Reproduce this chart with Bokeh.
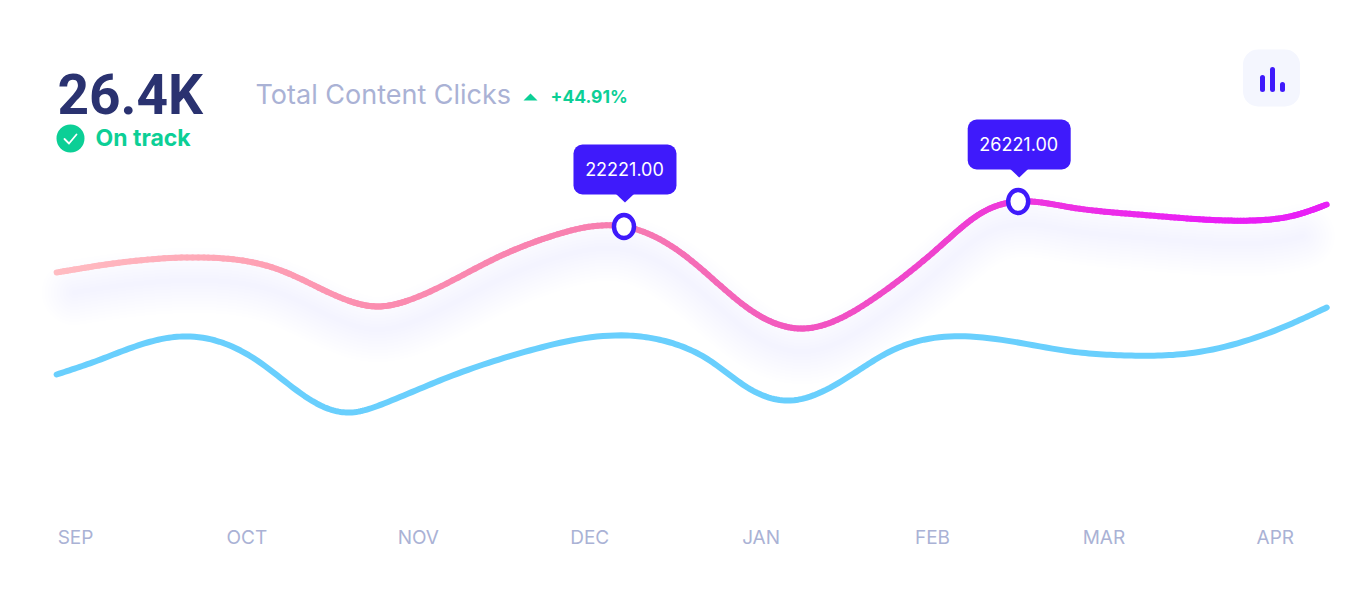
from bokeh.plotting import figure
from bokeh.models import FixedTicker, Range1d
from bokeh.core.properties import value
from bokeh.embed import file_html
from bokeh.resources import INLINE
import numpy as np

# ---- data ----
months = ["SEP", "OCT", "NOV", "DEC", "JAN", "FEB", "MAR", "APR"]

clicks_pos = [-0.11, 0.22, 0.75, 1.20, 1.59, 1.76, 1.94, 2.46, 2.79, 3.20, 3.57, 3.96, 4.25, 4.64, 5.05, 5.28,
              5.50, 5.81, 6.20, 6.58, 6.87, 7.11, 7.30]
clicks_val = [14861, 16301, 17261, 15181, 10381, 9421, 10381, 17261, 20781, 22221, 17261, 8461, 5901, 10381,
              19181, 24301, 26221, 25261, 24141, 23341, 23181, 23981, 25741]

second_pos = [-0.11, 0.13, 0.42, 0.67, 1.06, 1.43, 1.60, 1.80, 2.17, 2.65, 3.22, 3.47, 3.70, 3.92, 4.17, 4.54,
              4.74, 5.22, 5.81, 6.14, 6.49, 7.07, 7.30]
second_val = [-1459, 781, 3661, 4621, 781, -6419, -7539, -6099, -1939, 2381, 4781, 3661, 781, -3539, -5619,
              -1299, 2061, 4621, 2221, 1581, 1901, 6381, 9261]

marked_pos = [3.20, 5.50]
marked_val = [22221, 26221]
marked_txt = ["22221.00", "26221.00"]

headline = "26.4K"
status = "On track"
caption = "Total Content Clicks"
change = "+44.91%"

# ---- layout: page pixel -> data ----
PX_PER_MONTH, X0 = 171.4, 75.0
PX_PER_VAL = 1 / 160.0
F_L, F_R, F_T, F_B = 0, 1340, 0, 517
def X(px): return (np.asarray(px, float) - X0) / PX_PER_MONTH
def Y(py): return 22221 + (226 - np.asarray(py, float)) / PX_PER_VAL
def DX(d): return d / PX_PER_MONTH
def DY(d): return d / PX_PER_VAL   # d > 0 = upward

INDIGO = "#3f1afb"; GREEN = "#0ccf96"; NAVY = "#2a3270"; MUTED = "#aab2d5"; BLUE = "#69cffd"
FONT = value("Inter")

p = figure(width=1340, height=589, output_backend="svg", toolbar_location=None,
           x_range=Range1d(float(X(F_L)), float(X(F_R))), y_range=Range1d(float(Y(F_B)), float(Y(F_T))),
           y_axis_type=None, min_border_left=0, min_border_right=0, min_border_top=0, min_border_bottom=72,
           background_fill_color="white", border_fill_color="white", outline_line_color=None)
p.grid.visible = False
ax = p.xaxis[0]
ax.ticker = FixedTicker(ticks=list(range(len(months))))
ax.major_label_overrides = {i: m for i, m in enumerate(months)}
ax.axis_line_color = None
ax.major_tick_line_color = None
ax.minor_tick_line_color = None
ax.major_label_standoff = 2
ax.major_label_text_font = "Inter"
ax.major_label_text_font_size = "19px"
ax.major_label_text_color = MUTED


def smooth(xs, ys, n=16):
    """Natural cubic spline through the read points, for drawing the curve."""
    xs, ys = np.array(xs, float), np.array(ys, float)
    h = np.diff(xs)
    N = len(xs)
    A = np.zeros((N, N)); b = np.zeros(N)
    A[0, 0] = A[-1, -1] = 1
    for i in range(1, N - 1):
        A[i, i - 1], A[i, i], A[i, i + 1] = h[i - 1], 2 * (h[i - 1] + h[i]), h[i]
        b[i] = 6 * ((ys[i + 1] - ys[i]) / h[i] - (ys[i] - ys[i - 1]) / h[i - 1])
    M = np.linalg.solve(A, b)
    ox, oy = [], []
    for i in range(N - 1):
        for u in np.linspace(0, 1, n, endpoint=False):
            t = u * h[i]; r = h[i] - t
            ox.append(xs[i] + t)
            oy.append((M[i] * r**3 + M[i + 1] * t**3) / (6 * h[i])
                      + (ys[i] / h[i] - M[i] * h[i] / 6) * r + (ys[i + 1] / h[i] - M[i + 1] * h[i] / 6) * t)
    ox.append(xs[-1]); oy.append(ys[-1])
    return np.array(ox), np.array(oy)


cx, cy = smooth(clicks_pos, clicks_val)
bx, by = smooth(second_pos, second_val)

# soft shadow under the pink curve
shadow_mask = (cx >= X(72)) & (cx <= X(1302))
for w in range(66, 0, -6):
    p.line(cx[shadow_mask], cy[shadow_mask] - DY(23), line_color="#5a3cf0", line_alpha=0.0035, line_width=w,
           line_cap="round", line_join="round")

# blue curve
p.line(bx, by, line_color=BLUE, line_width=6, line_cap="round", line_join="round")

# pink curve with a colour ramp along x
stop_px = np.array([55, 250, 377, 623, 803, 950, 1018, 1200, 1326], float)
stop_rgb = np.array([[255, 188, 194], [254, 163, 181], [251, 141, 176], [247, 125, 176], [242, 86, 192],
                     [239, 64, 208], [238, 56, 220], [234, 31, 245], [232, 32, 246]], float)
mid_px = (cx[:-1] + cx[1:]) / 2 * PX_PER_MONTH + X0
cols = ["#%02x%02x%02x" % tuple(int(round(np.interp(m, stop_px, stop_rgb[:, k]))) for k in range(3)) for m in mid_px]
p.segment(cx[:-1], cy[:-1], cx[1:], cy[1:], line_color=cols, line_width=6, line_cap="round")

# markers and tooltips
for mx, my, label_txt in zip(marked_pos, marked_val, marked_txt):
    p.ellipse([mx], [my], width=20, height=23, width_units="screen", height_units="screen",
              fill_color="white", line_color=INDIGO, line_width=4.5)
    p.quad(left=[mx - DX(50.5)], right=[mx + DX(52.5)], bottom=[my + DY(32)], top=[my + DY(82)],
           fill_color=INDIGO, line_color=None, border_radius=9)
    p.patch([mx - DX(8), mx + DX(1), mx + DX(10)], [my + DY(32.5), my + DY(24), my + DY(32.5)],
            fill_color=INDIGO, line_color=None)
    p.text([mx + DX(0.5)], [my + DY(58)], text=[label_txt], text_font=FONT, text_font_size=value("18px"),
           text_color="white", text_align="center", text_baseline="alphabetic")

# heading texts
def label(px, py, txt, size, color, style="normal", font=FONT):
    p.text([float(X(px))], [float(Y(py))], text=[txt], text_font=font, text_font_size=value(size),
           text_color=color, text_font_style=style, text_align="left", text_baseline="alphabetic")

label(57, 94, headline, "55px", NAVY, "bold", value("Roboto"))
label(95, 137, status, "23px", GREEN, "bold")
label(255, 94, caption, "27px", MUTED)
label(550, 96, change, "17.5px", GREEN, "bold")

# check badge
p.ellipse([float(X(70))], [float(Y(138))], width=28, height=28, width_units="screen", height_units="screen",
          fill_color=GREEN, line_color=None)
p.line(X([64, 68.5, 76]), Y([138.5, 143, 134]), line_color="white", line_width=1.8, line_cap="round", line_join="round")

# up arrow
p.patch(X([523, 530, 537]), Y([100, 93, 100]), fill_color=GREEN, line_color=None)

# chart icon
p.quad(left=[float(X(1242.5))], right=[float(X(1299.5))], top=[float(Y(49))], bottom=[float(Y(106))],
       fill_color="#f4f6fe", line_color=None, border_radius=15)
for bar_x, bar_top in zip((1262, 1272, 1282), (77, 69, 84)):
    p.line(X([bar_x, bar_x]), Y([bar_top, 89]), line_color=INDIGO, line_width=5, line_cap="round")

open("out.html", "w").write(file_html(p, INLINE))
